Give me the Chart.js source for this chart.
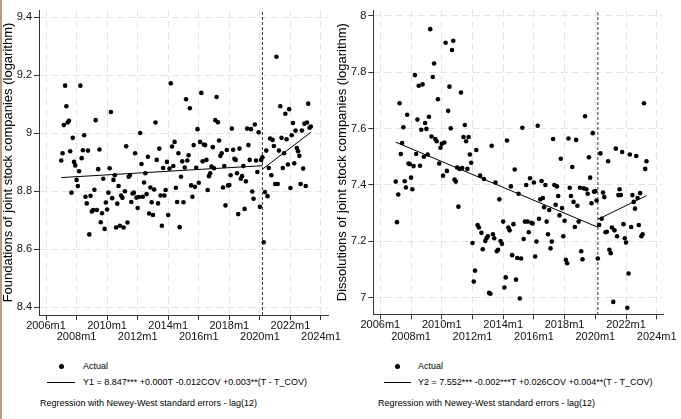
<!DOCTYPE html>
<html>
<head>
<meta charset="utf-8">
<script src="https://cdn.jsdelivr.net/npm/chart.js@4.4.0/dist/chart.umd.min.js"></script>
<style>
  body { margin: 0; background: #fff; font-family: "Liberation Sans", Arial, sans-serif; }
  #wrap { position: relative; width: 681px; height: 419px; overflow: hidden; background: #fff; }
  #edge { position: absolute; left: 0; top: 0; width: 2px; height: 419px; background: #bb9b78; }
  canvas { position: absolute; top: 0; }
  .leg { position: absolute; font-size: 9px; line-height: 10px; color: #000; white-space: nowrap; }
  .dot { position: absolute; width: 5px; height: 5px; border-radius: 50%; background: #000; }
  .key { position: absolute; height: 0; border-top: 1px solid #000; }
</style>
</head>
<body>
<div id="wrap">
  <canvas id="foundationsChart" width="345" height="350" style="left:0"></canvas>
  <canvas id="dissolutionsChart" width="351" height="350" style="left:330px"></canvas>

  <!-- 凡例 (左) -->
  <div class="dot" style="left:58.5px; top:363.5px"></div>
  <div class="leg" style="left:83px; top:361px">Actual</div>
  <div class="key" style="left:47px; top:382px; width:28px"></div>
  <div class="leg" style="left:83px; top:377px">Y1 = 8.847*** +0.000T -0.012COV +0.003**(T - T_COV)</div>
  <div class="leg" style="left:40px; top:398px">Regression with Newey-West standard errors - lag(12)</div>

  <!-- 凡例 (右) -->
  <div class="dot" style="left:394.5px; top:363.5px"></div>
  <div class="leg" style="left:418px; top:361px">Actual</div>
  <div class="key" style="left:384px; top:382px; width:27px"></div>
  <div class="leg" style="left:418px; top:377px">Y2 = 7.552*** -0.002***T +0.026COV +0.004**(T - T_COV)</div>
  <div class="leg" style="left:378px; top:398px">Regression with Newey-West standard errors - lag(12)</div>

  <div id="edge"></div>
</div>

<script>
// 月インデックス (0 = 2006m1)
const firstMonth = 12;   // 2007m1
const covidMonth = 170;  // 2020m3
const lastMonth = 208;   // 2023m5

const xTickMonths = [0, 24, 48, 72, 96, 120, 144, 168, 192, 216];
const xTickLabels = ['2006m1', '2008m1', '2010m1', '2012m1', '2014m1', '2016m1', '2018m1', '2020m1', '2022m1', '2024m1'];

// 設立数 (対数) 2007m1 -
const foundations = [
    8.906, 8.931, 9.028, 9.164, 9.093, 9.037, 9.043, 8.938, 8.795, 8.984, 8.901, 8.889,
    8.839, 8.818, 8.869, 9.164, 8.914, 8.941, 8.993, 8.781, 8.758, 8.940, 8.651, 8.784,
    8.730, 8.735, 8.805, 9.045, 8.735, 8.876, 8.944, 8.693, 8.724, 8.843, 8.670, 8.761,
    8.737, 8.795, 8.879, 9.073, 8.776, 8.839, 8.855, 8.675, 8.757, 8.818, 8.681, 8.785,
    8.777, 8.675, 8.800, 8.955, 8.692, 8.850, 8.856, 8.763, 8.792, 8.795, 8.931, 8.778,
    8.742, 8.780, 9.001, 8.894, 8.781, 8.830, 8.862, 8.790, 8.919, 8.723, 8.813, 8.762,
    8.718, 8.806, 9.037, 8.908, 8.758, 8.947, 8.785, 8.681, 8.880, 8.785, 8.804, 8.901,
    8.718, 8.878, 9.172, 8.954, 8.887, 8.970, 8.812, 8.763, 8.931, 8.676, 8.850, 8.903,
    8.762, 8.882, 9.117, 8.906, 8.924, 9.086, 8.820, 8.781, 8.959, 8.815, 8.881, 9.014,
    8.829, 8.970, 9.139, 8.903, 8.961, 8.959, 8.908, 8.804, 8.852, 8.862, 8.885, 8.952,
    8.879, 9.045, 9.125, 9.038, 8.975, 8.922, 8.931, 8.813, 8.887, 8.751, 8.942, 8.820,
    8.821, 8.855, 9.016, 8.943, 8.912, 8.908, 8.862, 8.721, 8.947, 8.843, 8.852, 8.887,
    8.739, 8.834, 9.016, 8.959, 8.908, 9.014, 8.799, 8.774, 9.030, 8.906, 8.866, 9.003,
    8.746, 8.908, 8.917, 8.624, 8.797, 8.940, 8.783, 8.880, 8.982, 8.855, 8.977, 8.956,
    8.825, 9.264, 8.825, 8.940, 9.093, 8.984, 8.880, 8.931, 9.067, 8.979, 8.892, 9.083,
    8.811, 8.993, 9.035, 8.896, 9.009, 8.949, 8.938, 8.922, 8.825, 9.009, 8.878, 9.033,
    8.818, 9.037, 9.102, 9.019, 9.023
];

// 解散数 (対数) 2007m1 -
const dissolutions = [
    7.412, 7.268, 7.366, 7.690, 7.510, 7.549, 7.605, 7.413, 7.391, 7.649, 7.476, 7.474,
    7.426, 7.385, 7.467, 7.790, 7.510, 7.632, 7.752, 7.468, 7.596, 7.757, 7.500, 7.620,
    7.599, 7.508, 7.642, 7.953, 7.572, 7.783, 7.831, 7.563, 7.555, 7.704, 7.476, 7.532,
    7.546, 7.433, 7.551, 7.905, 7.450, 7.663, 7.749, 7.601, 7.879, 7.912, 7.419, 7.412,
    7.462, 7.323, 7.457, 7.728, 7.460, 7.570, 7.613, 7.555, 7.457, 7.570, 7.508, 7.479,
    7.194, 7.057, 7.096, 7.524, 7.258, 7.249, 7.433, 7.230, 7.172, 7.421, 7.201, 7.211,
    7.218, 7.017, 7.014, 7.539, 7.225, 7.211, 7.409, 7.165, 7.170, 7.349, 7.201, 7.191,
    7.270, 7.036, 7.072, 7.558, 7.249, 7.239, 7.395, 7.151, 7.261, 7.455, 7.064, 7.141,
    7.369, 6.997, 7.139, 7.603, 7.208, 7.270, 7.400, 7.270, 7.232, 7.424, 7.266, 7.263,
    7.409, 7.146, 7.199, 7.610, 7.280, 7.349, 7.414, 7.354, 7.321, 7.400, 7.270, 7.225,
    7.311, 7.175, 7.199, 7.563, 7.400, 7.330, 7.395, 7.361, 7.292, 7.493, 7.318, 7.218,
    7.273, 7.134, 7.122, 7.565, 7.390, 7.361, 7.464, 7.340, 7.251, 7.560, 7.326, 7.270,
    7.390, 7.165, 7.136, 7.388, 7.644, 7.385, 7.369, 7.498, 7.426, 7.335, 7.584, 7.376,
    7.378, 7.345, 7.139, 7.258, 7.512, 7.280, 7.373, 7.357, 7.232, 7.234, 7.484, 7.170,
    7.158, 7.249, 6.985, 7.239, 7.529, 7.218, 7.364, 7.385, 7.364, 7.517, 7.261, 7.211,
    7.196, 6.964, 7.086, 7.508, 7.251, 7.364, 7.340, 7.316, 7.503, 7.354, 7.258, 7.371,
    7.218, 7.225, 7.690, 7.457, 7.484
];

// 回帰直線 (COVID前: firstMonth→covidMonth, COVID後: covidMonth→lastMonth)
const preFit1 = [8.847, 8.888];
const postFit1 = [8.876, 9.003];
const preFit2 = [7.552, 7.250];
const postFit2 = [7.278, 7.362];

const yTicks1 = [8.4, 8.6, 8.8, 9.0, 9.2, 9.4];
const yLabels1 = ['8.4', '8.6', '8.8', '9', '9.2', '9.4'];
const yTicks2 = [7.0, 7.2, 7.4, 7.6, 7.8, 8.0];
const yLabels2 = ['7', '7.2', '7.4', '7.6', '7.8', '8'];

Chart.defaults.font.family = '"Liberation Sans", Arial, sans-serif';
Chart.defaults.color = '#111';

// 2020m3 の破線
const covidLine = {
    id: 'covidLine',
    beforeDatasetsDraw(chart) {
        const x = chart.scales.x.getPixelForValue(covidMonth);
        const { top, bottom } = chart.chartArea;
        const ctx = chart.ctx;
        ctx.save();
        ctx.strokeStyle = '#333';
        ctx.lineWidth = 1;
        ctx.setLineDash([3, 2]);
        ctx.beginPath();
        ctx.moveTo(x, top + 2);
        ctx.lineTo(x, bottom);
        ctx.stroke();
        ctx.restore();
    }
};

function makePanel(canvasId, p) {
    const points = p.values.map((v, i) => ({ x: firstMonth + i, y: v }));
    const gridStyle = { color: '#e4e4e4', tickColor: '#333', tickLength: 5, lineWidth: 1 };
    const borderStyle = { color: '#333', width: 1, dash: [7, 4] };

    return new Chart(document.getElementById(canvasId).getContext('2d'), {
        type: 'scatter',
        data: {
            datasets: [
                {
                    label: 'fit-pre',
                    data: [{ x: firstMonth, y: p.pre[0] }, { x: covidMonth, y: p.pre[1] }],
                    showLine: true, pointRadius: 0, borderColor: '#000', borderWidth: 1
                },
                {
                    label: 'fit-post',
                    data: [{ x: covidMonth, y: p.post[0] }, { x: lastMonth, y: p.post[1] }],
                    showLine: true, pointRadius: 0, borderColor: '#000', borderWidth: 1
                },
                {
                    label: 'Actual',
                    data: points,
                    pointRadius: 2.3, pointBackgroundColor: '#000', pointBorderWidth: 0
                }
            ]
        },
        options: {
            responsive: false,
            animation: false,
            layout: { padding: { left: 0, right: p.padRight, top: 10, bottom: 0 } },
            plugins: { legend: { display: false }, tooltip: { enabled: false } },
            scales: {
                x: {
                    type: 'linear',
                    min: p.xMin,
                    max: p.xMax,
                    afterBuildTicks: s => { s.ticks = xTickMonths.map(v => ({ value: v })); },
                    afterFit: s => { s.height = p.xHeight; s.paddingLeft = 0; s.paddingRight = 0; },
                    ticks: {
                        autoSkip: false,
                        maxRotation: 0,
                        padding: 0,
                        font: { size: 11, lineHeight: 1.05 },
                        // Stata風に2段交互
                        callback: (v, i) => i % 2 ? ['', xTickLabels[i]] : xTickLabels[i]
                    },
                    grid: gridStyle,
                    border: borderStyle
                },
                y: {
                    min: p.yMin,
                    max: p.yMax,
                    afterBuildTicks: s => { s.ticks = p.yTicks.map(v => ({ value: v })); },
                    afterFit: s => { s.width = p.yWidth; s.paddingTop = 0; s.paddingBottom = 0; },
                    ticks: {
                        padding: 2,
                        font: { size: 11 },
                        callback: (v, i) => p.yLabels[i]
                    },
                    title: {
                        display: true,
                        text: p.title,
                        color: '#000',
                        font: { size: 13 },
                        padding: { top: p.titlePad, bottom: 0 }
                    },
                    grid: gridStyle,
                    border: borderStyle
                }
            }
        },
        plugins: [covidLine]
    });
}

makePanel('foundationsChart', {
    values: foundations, pre: preFit1, post: postFit1,
    xMin: -5.5, xMax: 221.5, yMin: 8.373, yMax: 9.425,
    yTicks: yTicks1, yLabels: yLabels1,
    title: 'Foundations of joint stock companies (logarithm)',
    yWidth: 39, xHeight: 35, padRight: 17, titlePad: 1
});

makePanel('dissolutionsChart', {
    values: dissolutions, pre: preFit2, post: postFit2,
    xMin: -5.5, xMax: 220.9, yMin: 6.941, yMax: 8.021,
    yTicks: yTicks2, yLabels: yLabels2,
    title: 'Dissolutions of joint stock companies (logarithm)',
    yWidth: 43.3, xHeight: 35.7, padRight: 18, titlePad: 4.5
});
</script>
</body>
</html>
